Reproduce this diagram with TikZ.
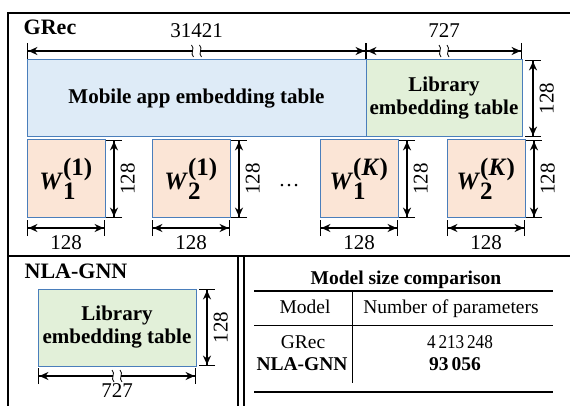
\documentclass[tikz,border=0pt]{standalone}
\usepackage{fontspec}
\setmainfont{Liberation Serif}
\usetikzlibrary{arrows.meta,positioning}

\definecolor{appfill}{HTML}{DEEBF7}
\definecolor{libfill}{HTML}{E2F0D9}
\definecolor{wfill}{HTML}{FBE5D6}
\definecolor{tabedge}{HTML}{4A7EBB}

\newcommand{\wmat}[2]{\textbf{\textit{W}}$^{\textbf{#2}}_{\textbf{#1}}$}

\tikzset{
  brk/.pic={
    \fill[white] (-4,-3) rectangle (4,3);
    \draw[line width=0.8pt] (-5,-6) .. controls (-1,-2) and (-7,2) .. (-3,6);
    \draw[line width=0.8pt] (3,-6) .. controls (7,-2) and (1,2) .. (5,6);
  }
}

\begin{document}
\begin{tikzpicture}[x=1pt,y=-1pt,font=\fontsize{21}{23}\selectfont,
    emb/.style={draw=tabedge,line width=1pt,outer sep=0pt,inner sep=0pt,align=center,
                minimum height=77pt,font=\fontsize{21}{23}\selectfont\bfseries},
    wbox/.style={draw=tabedge,fill=wfill,line width=1pt,outer sep=0pt,
                 minimum width=78pt,minimum height=78pt,font=\fontsize{25}{25}\selectfont},
    dim/.style={{Bar[width=16pt]Stealth[length=9pt,width=8pt]}-{Stealth[length=9pt,width=8pt]Bar[width=16pt]},
                line width=1.4pt},
    frame/.style={line width=2pt},
    vlab/.style={rotate=90,anchor=north,inner sep=6pt},
    hlab/.style={anchor=north,inner sep=7pt},
    tlab/.style={anchor=south,inner sep=13pt},
    head/.style={font=\fontsize{22}{22}\selectfont\bfseries,inner sep=0pt},
    cell/.style={font=\fontsize{19.5}{19.5}\selectfont,inner sep=0pt,text height=13pt,text depth=4pt}]

  \useasboundingbox (0,0) rectangle (570,406);

  % outer frame
  \draw[frame] (8,410) -- (8,13) -- (575,13);
  \draw[frame] (8,256) -- (575,256);
  \draw[line width=1.5pt] (238,256) -- (238,410) (244,256) -- (244,410);

  % GRec
  \node[head] (grec) at (50,27) {GRec};
  \node[emb,fill=appfill,minimum width=339pt,anchor=north west] (app) at (27,60) {Mobile app embedding table};
  \node[emb,fill=libfill,minimum width=156pt,right=0pt of app] (lib) {Library\\embedding table};

  \node[wbox,anchor=north west] (w11) at (27,140) {\wmat{1}{(1)}};
  \node[wbox,right=47pt of w11] (w21) {\wmat{2}{(1)}};
  \node[wbox,right=90pt of w21] (w1k) {\wmat{1}{(\textit{K})}};
  \node[wbox,right=49pt of w1k] (w2k) {\wmat{2}{(\textit{K})}};
  \node (dots) at (289,186) {\dots};

  \draw[dim] ([yshift=9pt]app.north west) -- node[tlab] (appw) {31421} ([yshift=9pt]app.north east);
  \draw[dim] ([yshift=9pt]lib.north west) -- node[tlab] (libw) {727} ([yshift=9pt]lib.north east);
  \path (appw.south) pic {brk} (libw.south) pic {brk};
  \draw[dim] ([xshift=11pt]lib.north east) -- node[vlab] (libh) {128} ([xshift=11pt]lib.south east);

  \foreach \w in {w11,w21,w1k,w2k} {
    \draw[dim] ([xshift=9pt]\w.north east) -- node[vlab] (\w v) {128} ([xshift=9pt]\w.south east);
    \draw[dim] ([yshift=-10pt]\w.south west) -- node[hlab] (\w h) {128} ([yshift=-10pt]\w.south east);
  }

  % NLA-GNN
  \node[head] (nla) at (76,271) {NLA-GNN};
  \node[emb,fill=libfill,minimum width=158pt,anchor=north west] (lib2) at (38,289) {Library\\embedding table};
  \draw[dim] ([xshift=11pt]lib2.north east) -- node[vlab] (lib2v) {128} ([xshift=11pt]lib2.south east);
  \draw[dim] ([yshift=-10pt]lib2.south west) -- node[hlab] (lib2h) {727} ([yshift=-10pt]lib2.south east);
  \path (lib2h.north) pic {brk};

  % size table
  \node[head,font=\fontsize{19.5}{19.5}\selectfont\bfseries] (ttl) at (406,279.5) {Model size comparison};
  \node[cell] (hmod) at (305,308.5) {Model};
  \node[cell] (hpar) at (451,308.5) {Number of parameters};
  \node[cell] (m1) at (303,343.5) {GRec};
  \node[cell] (p1) at (460,343.5) {\scalebox{0.88}[1]{4\,213\,248}};
  \node[cell,font=\fontsize{19.5}{19.5}\selectfont\bfseries] (m2) at (302,365.5) {NLA-GNN};
  \node[cell,font=\fontsize{19.5}{19.5}\selectfont\bfseries] (p2) at (455,365.5) {93\,056};
  \draw[line width=1.8pt] (254,291) -- (553,291) (254,392) -- (553,392);
  \draw[line width=1pt] (254,325.5) -- (553,325.5) (352,291) -- (352,383);
\end{tikzpicture}
\end{document}
